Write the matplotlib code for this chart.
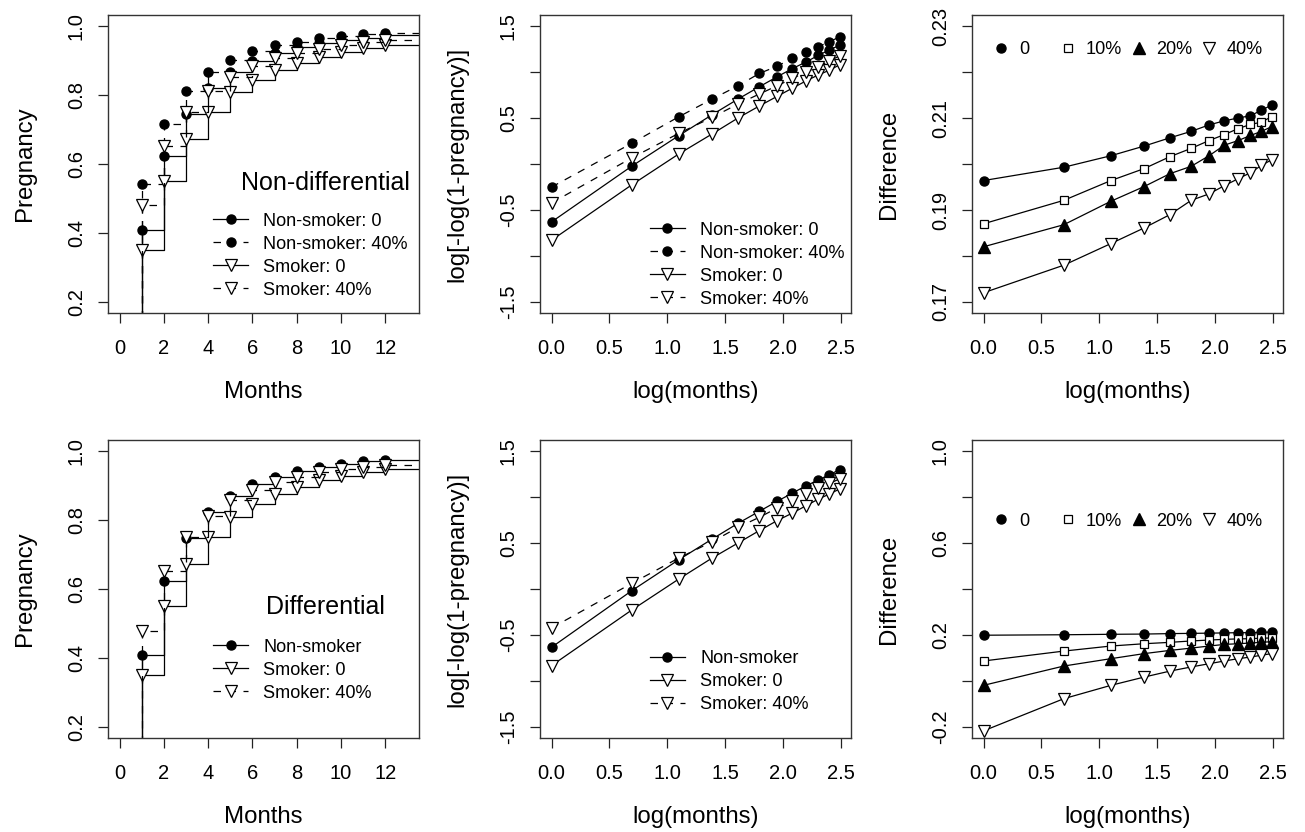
import numpy as np
import matplotlib
matplotlib.use("Agg")
import matplotlib.pyplot as plt
from matplotlib.lines import Line2D

plt.rcParams['font.family'] = ['Liberation Sans', 'DejaVu Sans']

# ---- data ----
months = [1, 2, 3, 4, 5, 6, 7, 8, 9, 10, 11, 12]
step_end = 14  # the step lines run on past the last month
log_months = [0.0, 0.693, 1.099, 1.386, 1.609, 1.792, 1.946, 2.079, 2.197, 2.303, 2.398, 2.485]

# top left: cumulative pregnancy, non-differential
nd_ns0 = [0.410, 0.624, 0.744, 0.820, 0.867, 0.900, 0.923, 0.940, 0.950, 0.959, 0.966, 0.973]
nd_ns40 = [0.543, 0.715, 0.812, 0.867, 0.902, 0.928, 0.944, 0.955, 0.964, 0.971, 0.976, 0.980]
nd_sm0 = [0.351, 0.550, 0.673, 0.750, 0.808, 0.844, 0.872, 0.894, 0.911, 0.926, 0.937, 0.946]
nd_sm40 = [0.481, 0.652, 0.752, 0.812, 0.853, 0.885, 0.907, 0.923, 0.934, 0.944, 0.953, 0.960]

# bottom left: differential
d_ns = [0.409, 0.624, 0.747, 0.823, 0.871, 0.903, 0.926, 0.942, 0.954, 0.961, 0.970, 0.975]
d_sm0 = [0.350, 0.552, 0.673, 0.752, 0.808, 0.847, 0.876, 0.897, 0.915, 0.929, 0.939, 0.948]
d_sm40 = [0.479, 0.653, 0.752, 0.813, 0.859, 0.888, 0.910, 0.926, 0.939, 0.949, 0.955, 0.960]

# top middle: log[-log(1-pregnancy)]
lnd_ns0 = [-0.630, -0.023, 0.309, 0.536, 0.706, 0.839, 0.948, 1.038, 1.110, 1.182, 1.240, 1.291]
lnd_ns40 = [-0.251, 0.226, 0.514, 0.706, 0.850, 0.984, 1.063, 1.150, 1.218, 1.276, 1.330, 1.381]
lnd_sm0 = [-0.829, -0.226, 0.110, 0.327, 0.500, 0.630, 0.735, 0.825, 0.904, 0.969, 1.020, 1.078]
lnd_sm40 = [-0.424, 0.067, 0.334, 0.507, 0.652, 0.760, 0.850, 0.930, 1.002, 1.056, 1.121, 1.175]

# bottom middle
ld_ns = [-0.634, -0.018, 0.319, 0.543, 0.714, 0.844, 0.953, 1.043, 1.123, 1.185, 1.243, 1.297]
ld_sm0 = [-0.833, -0.228, 0.109, 0.337, 0.500, 0.634, 0.743, 0.826, 0.906, 0.978, 1.033, 1.087]
ld_sm40 = [-0.424, 0.062, 0.337, 0.514, 0.670, 0.779, 0.880, 0.960, 1.033, 1.098, 1.149, 1.196]

# right column: difference by misclassification level
levels = ['0', '10%', '20%', '40%']
dnd_0 = [0.1964, 0.1993, 0.2018, 0.2039, 0.2057, 0.2071, 0.2085, 0.2094, 0.2100, 0.2105, 0.2117, 0.2128]
dnd_10 = [0.1870, 0.1921, 0.1964, 0.1990, 0.2016, 0.2034, 0.2051, 0.2064, 0.2077, 0.2086, 0.2091, 0.2103]
dnd_20 = [0.1820, 0.1868, 0.1919, 0.1951, 0.1979, 0.1995, 0.2018, 0.2041, 0.2051, 0.2062, 0.2071, 0.2081]
dnd_40 = [0.1720, 0.1780, 0.1827, 0.1861, 0.1890, 0.1921, 0.1935, 0.1953, 0.1968, 0.1981, 0.1997, 0.2009]

dd_0 = [0.199, 0.201, 0.203, 0.204, 0.206, 0.207, 0.208, 0.209, 0.210, 0.210, 0.211, 0.213]
dd_10 = [0.087, 0.130, 0.152, 0.162, 0.168, 0.174, 0.178, 0.181, 0.183, 0.184, 0.186, 0.187]
dd_20 = [-0.019, 0.065, 0.097, 0.119, 0.133, 0.143, 0.152, 0.159, 0.162, 0.165, 0.168, 0.171]
dd_40 = [-0.217, -0.077, -0.019, 0.017, 0.043, 0.061, 0.075, 0.087, 0.097, 0.104, 0.112, 0.119]

# ---- styles ----
LW = 0.9
DASH = (0, (6, 6))
circ = dict(marker='o', ms=6.5, mfc='black', mec='black')
tri = dict(marker='v', ms=8.5, mfc='white', mec='black', mew=0.9)
sq = dict(marker='s', ms=6.0, mfc='white', mec='black', mew=0.9)
utri = dict(marker='^', ms=8.0, mfc='black', mec='black')

TICK = 14.5
LAB = 17.3
LEG = 13.1

fig = plt.figure(figsize=(13.05, 8.32), dpi=100)
cols = [108 / 1305, 540 / 1305, 972 / 1305]
rows = [1 - 313 / 832, 1 - 738 / 832]
W = 311 / 1305
H = 298 / 832
axes = [[fig.add_axes([c, r, W, H]) for c in cols] for r in rows]


def style(ax, xt, xtl, yt, ytl, yminor, xlabel, ylabel):
    ax.set_xticks(xt)
    ax.set_xticklabels(xtl)
    ax.set_yticks(yt)
    ax.set_yticklabels(ytl)
    ax.set_yticks(yminor, minor=True)
    ax.tick_params(axis='both', which='both', direction='out', length=7.5, width=0.9,
                   labelsize=TICK, color='#222222')
    ax.tick_params(axis='x', pad=11)
    ax.tick_params(axis='y', pad=8.5, labelrotation=90)
    for t in ax.get_yticklabels():
        t.set_va('center')
    for s in ax.spines.values():
        s.set_linewidth(1.0)
        s.set_color('#333333')
    ax.set_xlabel(xlabel, fontsize=LAB, va='center')
    ax.set_ylabel(ylabel, fontsize=LAB, va='center')
    ax.xaxis.set_label_coords(0.5, -0.266)
    ax.yaxis.set_label_coords(-0.267, 0.5)


def steps(ax, y, ls, mk):
    sx = [0] + months + [step_end]
    sy = [0] + y + [y[-1]]
    ax.step(sx, sy, where='post', color='black', lw=LW, linestyle=ls)
    ax.plot(months, y, linestyle='none', **mk)


def handle(ls, mk):
    return Line2D([], [], color='black', lw=LW, linestyle=ls, **mk)


def pct_legend(ax, ycen):
    mks = [circ, sq, utri, tri]
    hs = [Line2D([], [], linestyle='none', **m) for m in mks]
    l0 = ax.legend(hs[:1], levels[:1], loc='center left', bbox_to_anchor=(0.065, ycen),
                   frameon=False, fontsize=LEG, handlelength=1.0, handletextpad=0.5,
                   borderpad=0, borderaxespad=0)
    ax.add_artist(l0)
    ax.legend(hs[1:], levels[1:], loc='center right', bbox_to_anchor=(0.935, ycen), ncol=3,
              frameon=False, fontsize=LEG, handlelength=1.0, handletextpad=0.45,
              columnspacing=0.45, borderpad=0, borderaxespad=0)


leg_kw = dict(frameon=False, fontsize=LEG, handlelength=1.9, handletextpad=0.85,
              labelspacing=0.33, borderpad=0, borderaxespad=0, numpoints=1)

pct_ticks = [0.2, 0.4, 0.6, 0.8, 1.0]
month_ticks = [0, 2, 4, 6, 8, 10, 12]
log_ticks = [0.0, 0.5, 1.0, 1.5, 2.0, 2.5]
log_tl = ['0.0', '0.5', '1.0', '1.5', '2.0', '2.5']
ll_ticks = [-1.5, -0.5, 0.5, 1.5]
ll_minor = [-1.0, 0.0, 1.0]

# ---- top left ----
ax = axes[0][0]
steps(ax, nd_ns0, '-', circ)
steps(ax, nd_ns40, DASH, circ)
steps(ax, nd_sm0, '-', tri)
steps(ax, nd_sm40, DASH, tri)
ax.set_xlim(-0.52, 13.52)
ax.set_ylim(0.168, 1.032)
style(ax, month_ticks, [str(m) for m in month_ticks], pct_ticks,
      ['0.2', '0.4', '0.6', '0.8', '1.0'], [], 'Months', 'Pregnancy')
ax.text(0.70, 0.436, 'Non-differential', transform=ax.transAxes, ha='center', va='center', fontsize=18)
ax.legend([handle('-', circ), handle(DASH, circ), handle('-', tri), handle(DASH, tri)],
          ['Non-smoker: 0', 'Non-smoker: 40%', 'Smoker: 0', 'Smoker: 40%'],
          loc='lower left', bbox_to_anchor=(0.339, 0.048), **leg_kw)

# ---- bottom left ----
ax = axes[1][0]
steps(ax, d_ns, '-', circ)
steps(ax, d_sm0, '-', tri)
steps(ax, d_sm40, DASH, tri)
ax.set_xlim(-0.52, 13.52)
ax.set_ylim(0.168, 1.032)
style(ax, month_ticks, [str(m) for m in month_ticks], pct_ticks,
      ['0.2', '0.4', '0.6', '0.8', '1.0'], [], 'Months', 'Pregnancy')
ax.text(0.70, 0.438, 'Differential', transform=ax.transAxes, ha='center', va='center', fontsize=18)
ax.legend([handle('-', circ), handle('-', tri), handle(DASH, tri)],
          ['Non-smoker', 'Smoker: 0', 'Smoker: 40%'],
          loc='lower left', bbox_to_anchor=(0.339, 0.122), **leg_kw)

# ---- top middle ----
ax = axes[0][1]
ax.plot(log_months, lnd_ns0, color='black', lw=LW, **circ)
ax.plot(log_months, lnd_ns40, color='black', lw=LW, linestyle=DASH, **circ)
ax.plot(log_months, lnd_sm0, color='black', lw=LW, **tri)
ax.plot(log_months, lnd_sm40, color='black', lw=LW, linestyle=DASH, **tri)
ax.set_xlim(-0.0994, 2.584)
ax.set_ylim(-1.62, 1.62)
style(ax, log_ticks, log_tl, ll_ticks, ['-1.5', '-0.5', '0.5', '1.5'], ll_minor,
      'log(months)', 'log[-log(1-pregnancy)]')
ax.legend([handle('-', circ), handle(DASH, circ), handle('-', tri), handle(DASH, tri)],
          ['Non-smoker: 0', 'Non-smoker: 40%', 'Smoker: 0', 'Smoker: 40%'],
          loc='lower left', bbox_to_anchor=(0.354, 0.018), **leg_kw)

# ---- bottom middle ----
ax = axes[1][1]
ax.plot(log_months, ld_ns, color='black', lw=LW, **circ)
ax.plot(log_months, ld_sm0, color='black', lw=LW, **tri)
ax.plot(log_months, ld_sm40, color='black', lw=LW, linestyle=DASH, **tri)
ax.set_xlim(-0.0994, 2.584)
ax.set_ylim(-1.62, 1.62)
style(ax, log_ticks, log_tl, ll_ticks, ['-1.5', '-0.5', '0.5', '1.5'], ll_minor,
      'log(months)', 'log[-log(1-pregnancy)]')
ax.legend([handle('-', circ), handle('-', tri), handle(DASH, tri)],
          ['Non-smoker', 'Smoker: 0', 'Smoker: 40%'],
          loc='lower left', bbox_to_anchor=(0.354, 0.083), **leg_kw)

# ---- top right ----
ax = axes[0][2]
for ys, mk in zip([dnd_0, dnd_10, dnd_20, dnd_40], [circ, sq, utri, tri]):
    ax.plot(log_months, ys, color='black', lw=LW, **mk)
ax.set_xlim(-0.0994, 2.584)
ax.set_ylim(0.1676, 0.2324)
style(ax, log_ticks, log_tl, [0.17, 0.19, 0.21, 0.23], ['0.17', '0.19', '0.21', '0.23'],
      [0.18, 0.20, 0.22], 'log(months)', 'Difference')
pct_legend(ax, 0.883)

# ---- bottom right ----
ax = axes[1][2]
for ys, mk in zip([dd_0, dd_10, dd_20, dd_40], [circ, sq, utri, tri]):
    ax.plot(log_months, ys, color='black', lw=LW, **mk)
ax.set_xlim(-0.0994, 2.584)
ax.set_ylim(-0.248, 1.048)
style(ax, log_ticks, log_tl, [-0.2, 0.2, 0.6, 1.0], ['-0.2', '0.2', '0.6', '1.0'],
      [0.0, 0.4, 0.8], 'log(months)', 'Difference')
pct_legend(ax, 0.728)

fig.savefig('out.png', dpi=100, facecolor='white')
